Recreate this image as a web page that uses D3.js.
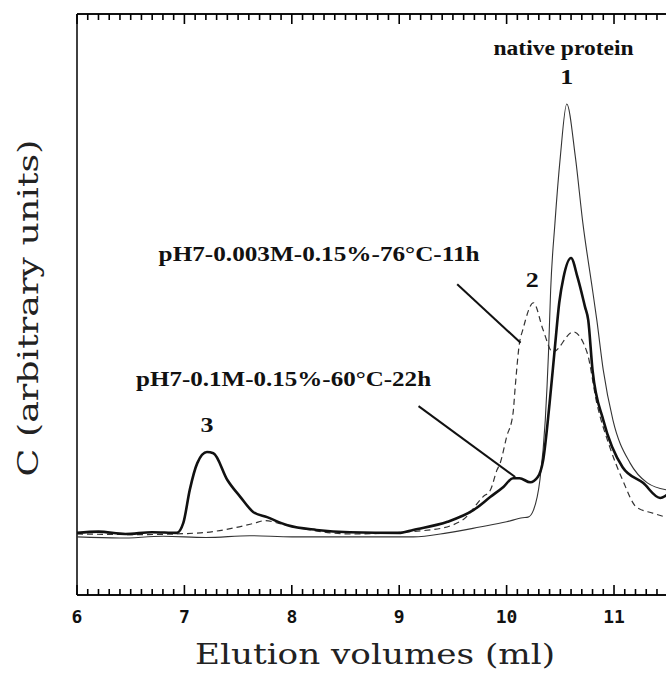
<!DOCTYPE html>
<html>
<head>
<meta charset="utf-8">
<script src="https://cdnjs.cloudflare.com/ajax/libs/d3/7.8.5/d3.min.js"></script>
<style>
  body { margin: 0; background: #fff; }
  svg { display: block; }
</style>
</head>
<body>
<svg id="chart" width="666" height="674"></svg>
<script>
// elution volume (ml) / concentration (arbitrary units)
var nativeVol = [6.00, 6.40, 6.80, 7.20, 7.61, 8.00, 8.54, 9.13, 9.45, 9.75, 10.00, 10.15, 10.20, 10.25, 10.31, 10.36, 10.39, 10.41, 10.45, 10.50, 10.56, 10.64, 10.71, 10.80, 10.84, 10.90, 10.99, 11.15, 11.31, 11.49];
var nativeC   = [10.0, 9.8, 10.1, 9.9, 10.2, 10.0, 10.0, 10.0, 10.7, 11.7, 12.6, 13.3, 13.4, 14.6, 19.8, 30.1, 41.7, 52.5, 64.0, 75.4, 84.5, 75.4, 64.0, 52.5, 47.3, 38.7, 30.1, 22.7, 19.3, 18.1];

var acidVol = [6.00, 6.20, 6.45, 6.70, 6.93, 6.99, 7.05, 7.12, 7.21, 7.27, 7.40, 7.52, 7.64, 7.77, 7.96, 8.23, 8.54, 9.01, 9.13, 9.45, 9.69, 9.85, 9.97, 10.06, 10.12, 10.22, 10.29, 10.34, 10.40, 10.45, 10.49, 10.53, 10.60, 10.66, 10.73, 10.76, 10.80, 10.90, 11.08, 11.27, 11.43, 11.49];
var acidC   = [10.7, 10.9, 10.5, 10.8, 10.7, 12.4, 18.1, 22.7, 24.6, 24.4, 19.8, 16.9, 14.3, 13.4, 12.0, 11.2, 10.8, 10.7, 11.2, 12.6, 14.6, 16.9, 18.6, 20.1, 20.1, 19.4, 20.3, 23.2, 33.0, 42.7, 50.3, 54.7, 58.0, 54.7, 49.6, 47.3, 38.7, 30.1, 22.0, 19.3, 16.7, 17.2];

var heatVol = [6.00, 6.60, 7.15, 7.45, 7.64, 7.75, 7.89, 8.14, 8.54, 9.29, 9.59, 9.78, 9.85, 9.91, 9.94, 10.00, 10.06, 10.08, 10.12, 10.15, 10.25, 10.34, 10.43, 10.62, 10.75, 10.84, 10.96, 11.08, 11.21, 11.36, 11.48];
var heatC   = [10.5, 10.4, 10.7, 11.5, 12.3, 12.8, 12.3, 11.3, 10.5, 11.2, 12.9, 16.9, 18.1, 21.5, 22.7, 27.2, 31.3, 35.8, 43.4, 45.6, 50.3, 45.6, 41.8, 45.3, 41.7, 33.0, 25.5, 19.8, 15.1, 14.1, 13.4];

var xTicks = [6, 7, 8, 9, 10, 11];
var xMinorTicks = d3.range(60, 116).map(function (d) { return d / 10; });

var labelHeat = "pH7-0.003M-0.15%-76°C-11h";
var labelAcid = "pH7-0.1M-0.15%-60°C-22h";
var peakNames = ["1", "2", "3"];

// leader lines from the labels to their curves: [vol, C]
var leaderHeat = [[9.54, 53.5], [10.13, 43.4]];
var leaderAcid = [[9.18, 32.5], [10.08, 20.3]];

var svg = d3.select("#chart");
var serif = "'Liberation Serif', 'Times New Roman', serif";

var x = d3.scaleLinear().domain([6, 11.484]).range([77, 666]);
var y = d3.scaleLinear().domain([0, 100]).range([595, 14]);

function zip(a, b) { return a.map(function (v, i) { return [v, b[i]]; }); }

// frame: left, bottom, top
svg.append("line")
  .attr("x1", x(6)).attr("x2", x(6))
  .attr("y1", y(0)).attr("y2", y(100))
  .attr("stroke", "#111").attr("stroke-width", 1.6);
[0, 100].forEach(function (v) {
  svg.append("line")
    .attr("x1", x(6)).attr("x2", 666)
    .attr("y1", y(v)).attr("y2", y(v))
    .attr("stroke", "#111").attr("stroke-width", 1.8);
});

// inward ticks, 0.1 ml minor and 1 ml major
function ticks(v, dir) {
  svg.append("g").selectAll("line")
    .data(xMinorTicks)
    .enter().append("line")
    .attr("x1", function (d) { return x(d); })
    .attr("x2", function (d) { return x(d); })
    .attr("y1", y(v))
    .attr("y2", function (d) {
      var major = Math.abs(d - Math.round(d)) < 1e-6;
      return y(v) + dir * (major ? 10 : 6);
    })
    .attr("stroke", "#000").attr("stroke-width", 1.6);
}
ticks(0, -1);
ticks(100, 1);

svg.append("g").selectAll("text")
  .data(xTicks)
  .enter().append("text")
  .attr("x", function (d) { return x(d); })
  .attr("y", y(0) + 28)
  .attr("text-anchor", "middle")
  .attr("fill", "#111")
  .style("font-family", "'DejaVu Sans Mono', monospace")
  .style("font-weight", "bold")
  .style("font-size", "18px")
  .text(function (d) { return d; });

// axis titles
svg.append("text")
  .attr("x", 375).attr("y", 664)
  .attr("text-anchor", "middle")
  .attr("textLength", 360).attr("lengthAdjust", "spacingAndGlyphs")
  .style("font-family", "'DejaVu Serif', serif")
  .style("font-size", "27px")
  .attr("fill", "#222")
  .text("Elution volumes (ml)");

svg.append("text")
  .attr("transform", "translate(38," + 308 + ") rotate(-90)")
  .attr("text-anchor", "middle")
  .attr("textLength", 337).attr("lengthAdjust", "spacingAndGlyphs")
  .style("font-family", "'DejaVu Serif', serif")
  .style("font-size", "27px")
  .attr("fill", "#222")
  .text("C (arbitrary units)");

// curves
var line = d3.line()
  .x(function (d) { return x(d[0]); })
  .y(function (d) { return y(d[1]); })
  .curve(d3.curveMonotoneX);

var plot = svg.append("g");

plot.append("path")
  .attr("d", line(zip(heatVol, heatC)))
  .attr("fill", "none").attr("stroke", "#333")
  .attr("stroke-width", 1.2).attr("stroke-dasharray", "6,4");

plot.append("path")
  .attr("d", line(zip(nativeVol, nativeC)))
  .attr("fill", "none").attr("stroke", "#333")
  .attr("stroke-width", 1.1);

plot.append("path")
  .attr("d", line(zip(acidVol, acidC)))
  .attr("fill", "none").attr("stroke", "#111")
  .attr("stroke-width", 2.6);

// leader lines
[leaderHeat, leaderAcid].forEach(function (seg) {
  plot.append("line")
    .attr("x1", x(seg[0][0])).attr("y1", y(seg[0][1]))
    .attr("x2", x(seg[1][0])).attr("y2", y(seg[1][1]))
    .attr("stroke", "#111").attr("stroke-width", 2);
});

// labels
function label(txt, xv, yv, size, len, anchor) {
  var t = svg.append("text")
    .attr("x", x(xv)).attr("y", y(yv))
    .attr("text-anchor", anchor || "start")
    .style("font-family", serif)
    .style("font-weight", "bold")
    .style("font-size", size + "px")
    .attr("fill", "#111")
    .text(txt);
  if (len) t.attr("textLength", len).attr("lengthAdjust", "spacingAndGlyphs");
  return t;
}

label("native protein", 10.53, 93.0, 20, 140, "middle");
label(labelHeat, 6.76, 57.5, 21, 321);
label(labelAcid, 6.55, 36.0, 21, 295);
label(peakNames[0], 10.56, 88.0, 22, 13, "middle");
label(peakNames[1], 10.24, 53.0, 22, 13, "middle");
label(peakNames[2], 7.21, 28.0, 22, 13, "middle");
</script>
</body>
</html>
